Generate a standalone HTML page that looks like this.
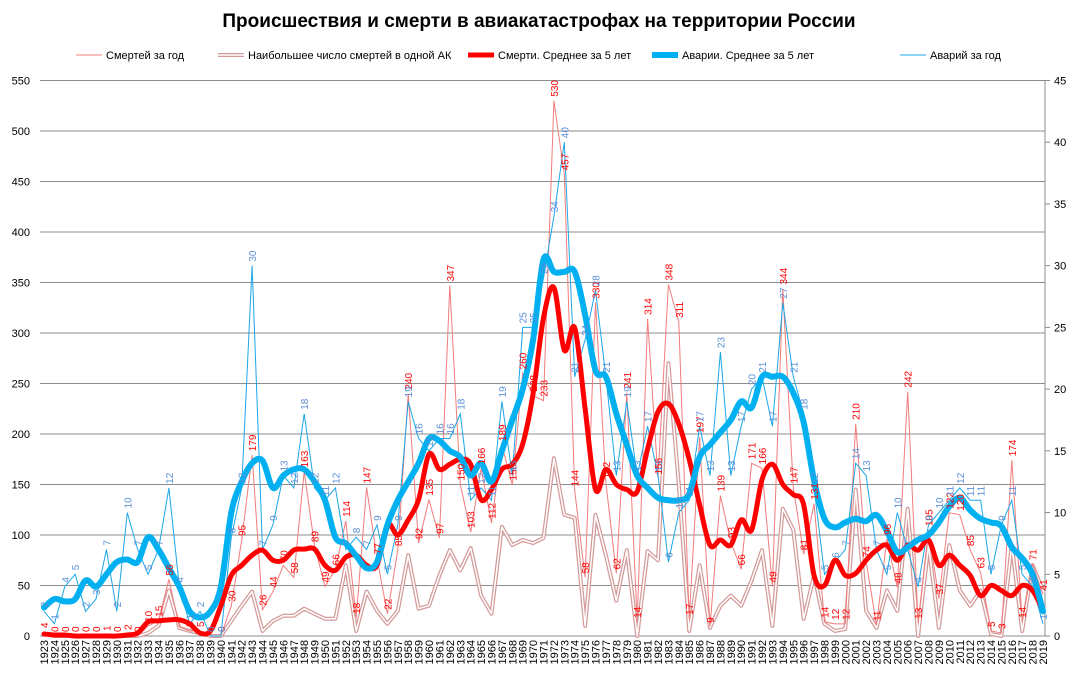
<!DOCTYPE html>
<html><head><meta charset="utf-8"><style>
body{margin:0;background:#fff;font-family:"Liberation Sans",sans-serif}
</style></head><body>
<svg id="c" width="1078" height="677" xmlns="http://www.w3.org/2000/svg" style="font-family:'Liberation Sans',sans-serif">
<text x="539" y="27" text-anchor="middle" font-size="19" font-weight="bold">Происшествия и смерти в авиакатастрофах на территории России</text>
<g id="legend" font-size="11">
<g><line x1="76" y1="55" x2="102" y2="55" stroke="#f27c7c" stroke-width="1"/><text x="106" y="59">Смертей за год</text></g>
<g><line x1="218" y1="55" x2="244" y2="55" stroke="#d49a9a" stroke-width="4"/><line x1="218" y1="55" x2="244" y2="55" stroke="#fff" stroke-width="1.5"/><text x="248" y="59">Наибольшее число смертей в одной АК</text></g>
<g><line x1="468" y1="55" x2="494" y2="55" stroke="#ff0000" stroke-width="5"/><text x="498" y="59">Смерти. Среднее за 5 лет</text></g>
<g><line x1="652" y1="55" x2="678" y2="55" stroke="#00b0f0" stroke-width="6"/><text x="682" y="59">Аварии. Среднее за 5 лет</text></g>
<g><line x1="900" y1="55" x2="926" y2="55" stroke="#1ca6e8" stroke-width="1"/><text x="930" y="59">Аварий за год</text></g>
</g>
</svg>
<script>
const years=[];for(let y=1923;y<=2019;y++)years.push(y);
const deaths=[4,0,0,0,0,0,1,0,2,0,10,15,56,9,5,5,0,0,30,95,179,26,44,70,58,163,89,49,66,114,18,147,77,22,85,240,92,135,97,347,150,103,166,112,189,150,260,238,233,530,457,144,58,330,152,62,241,14,314,156,348,311,17,197,9,139,93,66,171,166,49,344,147,81,131,14,12,12,210,74,11,96,48,242,13,105,37,122,120,85,63,5,3,174,14,71,41];
const maxDeaths=[2,0,0,0,0,0,0,0,0,0,3,10,45,8,5,3,0,0,15,30,44,5,15,20,20,27,22,17,17,70,5,44,25,12,25,80,27,30,60,85,65,87,40,22,108,90,95,92,97,176,120,117,10,120,80,35,85,0,84,75,270,150,5,70,8,30,40,30,55,85,10,126,105,17,60,12,5,7,145,25,8,45,25,126,0,90,8,90,45,30,45,2,0,90,5,70,45];
const deathsAvg=[2,1,1,0,0,0,0,0,1,3,14,15,16,16,12,3,5,30,60,70,80,85,75,75,85,86,86,70,65,78,80,70,70,110,100,115,135,180,165,170,175,170,135,145,165,170,190,240,315,345,283,305,225,145,165,150,145,143,185,222,230,210,175,130,90,95,90,115,105,155,170,150,140,130,60,50,75,60,62,75,85,90,75,90,85,95,70,80,70,60,40,50,45,40,50,45,25];
const accidents=[2,1,4,5,2,3,7,2,10,7,5,7,12,4,1,2,0,0,8,12,30,7,9,13,12,18,12,11,12,7,8,7,9,5,9,19,16,15,16,16,18,11,12,11,19,13,25,25,29,34,40,21,24,28,21,13,19,13,17,13,6,10,11,17,13,23,13,17,20,21,17,27,21,18,12,5,6,7,14,13,7,5,10,7,4,9,10,11,12,11,11,5,9,11,5,4,1];
const accAvg=[2.3,3,2.8,3,4.5,4,5,6,6.2,6,8,7,5.5,4,2,1.5,2,4,10,12.5,14,14.2,12,13,13.5,13.5,12.5,11,8,7.5,6.5,5.5,6,9,11,12.5,14,16,15.8,15,14.5,13,14,12.5,15,17.5,20,24,30.5,29.5,29.5,29.5,26,21.5,21,18,15.5,13,12,11.2,11,11,11.5,14.5,15.5,16.5,17.5,19,18.5,21,21,21,19.7,17.3,12.6,9.5,8.8,9.2,9.5,9.3,9.8,8.5,6.8,7.2,7.8,8.2,9.2,10.5,11.2,10.2,9.5,9.2,8.9,7.2,6.3,5,2];
const leftTicks=[0,50,100,150,200,250,300,350,400,450,500,550];
const rightTicks=[0,5,10,15,20,25,30,35,40,45];

const svg=document.getElementById('c');const NS='http://www.w3.org/2000/svg';
const X0=44,X1=1043,Y0=636,YT=80.5;
const x=i=>X0+i*(X1-X0)/(years.length-1);
const yL=v=>Y0-v*(Y0-YT)/550;
const yR=v=>Y0-v*(Y0-YT)/45;
function mk(t,a,p){const e=document.createElementNS(NS,t);for(const k in a)e.setAttribute(k,a[k]);(p||svg).appendChild(e);return e;}
const grid=mk('g',{});
leftTicks.forEach(v=>{mk('line',{x1:40,x2:1045,y1:yL(v),y2:yL(v),stroke:'#8c8c8c','stroke-width':1},grid);
const t=mk('text',{x:30,y:yL(v)+4,'text-anchor':'end','font-size':11});t.textContent=v;
});
mk('line',{x1:1045,x2:1045,y1:YT,y2:Y0,stroke:'#8c8c8c'},grid);
rightTicks.forEach(v=>{mk('line',{x1:1045,x2:1050,y1:yR(v),y2:yR(v),stroke:'#8c8c8c'},grid);
const t=mk('text',{x:1054,y:yR(v)+4,'font-size':11});t.textContent=v;
});
years.forEach((yr,i)=>{const t=mk('text',{transform:`translate(${x(i)+4},640) rotate(-90)`,'text-anchor':'end','font-size':11});t.textContent=yr;
});
function poly(arr,f){return arr.map((v,i)=>(i?'L':'M')+x(i).toFixed(1)+','+f(v).toFixed(1)).join('');}
function smooth(arr,f){const p=arr.map((v,i)=>[x(i),f(v)]);let d='M'+p[0];for(let i=0;i<p.length-1;i++){const a=p[i-1]||p[i],b=p[i],c=p[i+1],e=p[i+2]||c;
d+=`C${b[0]+(c[0]-a[0])/6},${b[1]+(c[1]-a[1])/6} ${c[0]-(e[0]-b[0])/6},${c[1]-(e[1]-b[1])/6} ${c[0]},${c[1]}`;}return d;}
let e;
e=mk('path',{d:poly(maxDeaths,yL),fill:'none',stroke:'#d49a9a','stroke-width':4,'stroke-linejoin':'round'});
e=mk('path',{d:poly(maxDeaths,yL),fill:'none',stroke:'#fff','stroke-width':1.5,'stroke-linejoin':'round'});
e=mk('path',{d:poly(deaths,yL),fill:'none',stroke:'#f27c7c','stroke-width':1});
e=mk('path',{d:poly(accidents,yR),fill:'none',stroke:'#1ca6e8','stroke-width':1});
e=mk('path',{d:smooth(deathsAvg,yL),fill:'none',stroke:'#ff0000','stroke-width':5,'stroke-linecap':'round'});
e=mk('path',{d:smooth(accAvg,yR),fill:'none',stroke:'#00b0f0','stroke-width':6,'stroke-linecap':'round'});
deaths.forEach((v,i)=>{const t=mk('text',{transform:`translate(${x(i)+4},${yL(v)-4}) rotate(-90)`,'font-size':10,fill:'#ff0000'});t.textContent=v;
});
accidents.forEach((v,i)=>{const t=mk('text',{transform:`translate(${x(i)+4},${yR(v)-4}) rotate(-90)`,'font-size':10,fill:'#5b8fd6'});t.textContent=v;
});
</script>
</body></html>
